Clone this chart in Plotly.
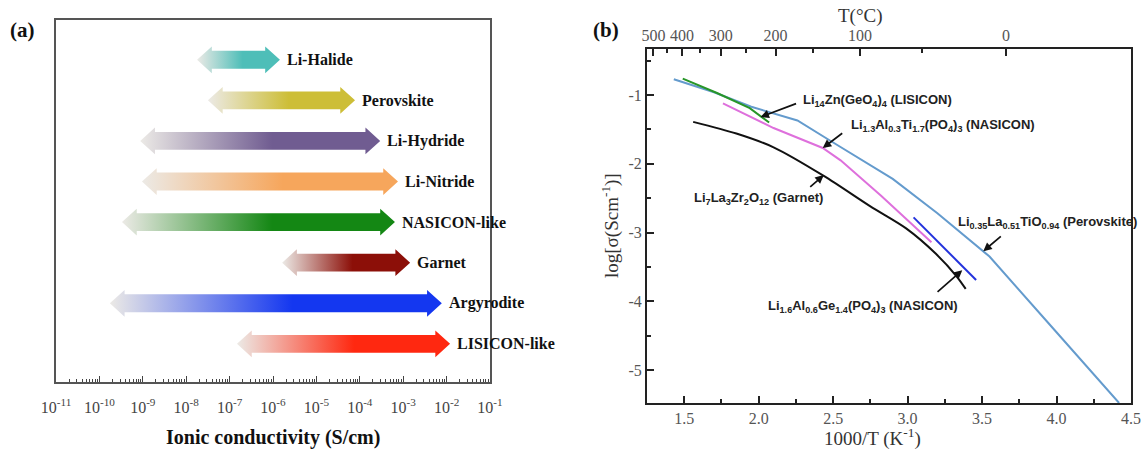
import plotly.graph_objects as go

# ---------------- Panel (a) data ----------------
classes = ["Li-Halide", "Perovskite", "Li-Hydride", "Li-Nitride",
           "NASICON-like", "Garnet", "Argyrodite", "LISICON-like"]
log_lo = [-7.75, -7.50, -9.06, -9.02, -9.48, -5.79, -9.76, -6.83]
log_hi = [-5.84, -4.11, -3.53, -3.12, -3.19, -2.84, -2.11, -1.92]
row_y = [8, 7, 6, 5, 4, 3, 2, 1]
colors = ["rgb(78,190,184)", "rgb(205,190,55)", "rgb(112,92,145)", "rgb(246,166,92)",
          "rgb(20,135,20)", "rgb(140,15,8)", "rgb(20,55,240)", "rgb(255,40,16)"]
a_tick_exp = list(range(-11, 0))

# ---------------- Panel (b) data ----------------
llto_x = [1.43, 1.70, 1.95, 2.15, 2.26, 2.50, 2.90, 3.20, 3.55, 3.93, 4.42]
llto_y = [-0.77, -0.96, -1.17, -1.30, -1.37, -1.69, -2.22, -2.72, -3.35, -4.28, -5.48]
lzgo_x = [1.49, 1.72, 1.94, 2.07]
lzgo_y = [-0.76, -0.97, -1.19, -1.40]
latp_x = [1.76, 2.10, 2.43, 2.55, 2.82, 3.16]
latp_y = [-1.12, -1.48, -1.77, -1.95, -2.46, -3.14]
llzo_x = [1.56, 1.85, 2.10, 2.44, 2.75, 2.99, 3.19, 3.33, 3.39]
llzo_y = [-1.39, -1.56, -1.76, -2.18, -2.62, -2.94, -3.31, -3.64, -3.82]
lagp_x = [3.04, 3.46]
lagp_y = [-2.78, -3.69]
top_T_major = [500, 400, 300, 200, 100, 0]
top_T_minor = [450, 350, 250, 150, 50]

fig = go.Figure()

# ---- gradient double arrows ----
S, H, HL = 0.22, 0.33, 0.34
pale = "rgb(236,234,230)"
for name, lo, hi, yc, col in zip(classes, log_lo, log_hi, row_y, colors):
    xl = [lo, lo + HL, lo + HL, hi - HL, hi - HL, hi, hi - HL, hi - HL, lo + HL, lo + HL, lo]
    ys = [yc, yc + H, yc + S, yc + S, yc + H, yc, yc - H, yc - S, yc - S, yc - H, yc]
    fig.add_trace(go.Scatter(
        x=[10 ** v for v in xl], y=ys, mode="lines", fill="toself",
        line=dict(width=0, color=col),
        fillgradient=dict(type="horizontal",
                          colorscale=[[0, pale], [0.55, col], [1, col]]),
        xaxis="x", yaxis="y", showlegend=False, hoverinfo="skip"))
    fig.add_annotation(x=hi, y=yc, xref="x", yref="y", xanchor="left", yanchor="middle",
                       xshift=5, showarrow=False, text="<b>%s</b>" % name,
                       font=dict(family="Liberation Serif", size=16, color="#111"))

# ---- panel (b) lines ----
def line(xs, ys, col, shape="linear"):
    fig.add_trace(go.Scatter(x=xs, y=ys, mode="lines",
                             line=dict(color=col, width=2, shape=shape, smoothing=0.8),
                             xaxis="x2", yaxis="y2", showlegend=False, hoverinfo="skip"))

line(llto_x, llto_y, "rgb(100,155,205)")
line(lzgo_x, lzgo_y, "rgb(40,150,40)")
line(latp_x, latp_y, "rgb(222,112,220)")
line(llzo_x, llzo_y, "#111111", shape="spline")
line(lagp_x, lagp_y, "rgb(35,50,220)")
# invisible trace on top axis
fig.add_trace(go.Scatter(x=[1.3], y=[-1], mode="markers", marker=dict(opacity=0),
                         xaxis="x3", yaxis="y2", showlegend=False, hoverinfo="skip"))

labels_b = [
    ("Li<sub>14</sub>Zn(GeO<sub>4</sub>)<sub>4</sub> (LISICON)", 2.282, -1.073, (2.261, -1.116), (2.012, -1.320)),
    ("Li<sub>1.3</sub>Al<sub>0.3</sub>Ti<sub>1.7</sub>(PO<sub>4</sub>)<sub>3</sub> (NASICON)", 2.605, -1.437, (2.571, -1.539), (2.430, -1.771)),
    ("Li<sub>7</sub>La<sub>3</sub>Zr<sub>2</sub>O<sub>12</sub> (Garnet)", 1.554, -2.50, (2.336, -2.354), (2.437, -2.164)),
    ("Li<sub>0.35</sub>La<sub>0.51</sub>TiO<sub>0.94</sub> (Perovskite)", 3.326, -2.86, (3.636, -3.038), (3.508, -3.271)),
    ("Li<sub>1.6</sub>Al<sub>0.6</sub>Ge<sub>1.4</sub>(PO<sub>4</sub>)<sub>3</sub> (NASICON)", 2.046, -4.07, (3.191, -3.882), (3.367, -3.547)),
]
for txt, tx, ty, tail, head in labels_b:
    fig.add_annotation(x=tx, y=ty, xref="x2", yref="y2", xanchor="left", yanchor="middle",
                       showarrow=False, text="<b>%s</b>" % txt,
                       font=dict(family="Liberation Sans", size=13, color="#222"))
    fig.add_annotation(x=head[0], y=head[1], ax=tail[0], ay=tail[1], xref="x2", yref="y2",
                       axref="x2", ayref="y2", showarrow=True, arrowhead=2, arrowsize=1,
                       arrowwidth=1.7, arrowcolor="#111", text="")

serif = "Liberation Serif"
W, Hh = 1145, 450
fig.update_layout(
    width=W, height=Hh, margin=dict(l=0, r=0, t=0, b=0, autoexpand=False),
    paper_bgcolor="white", plot_bgcolor="white", showlegend=False,
    xaxis=dict(domain=[56 / W, 490 / W], anchor="y", type="log", range=[-11, -1],
               automargin=False,
               tickvals=[10.0 ** e for e in a_tick_exp],
               ticktext=["10<sup>%d</sup>" % e for e in a_tick_exp],
               ticks="inside", ticklen=6, tickwidth=1, tickcolor="#444",
               ticklabelstandoff=10,
               minor=dict(ticks="inside", ticklen=3, tickcolor="#444",
                          tickvals=[k * 10.0 ** e for e in a_tick_exp[:-1] for k in range(2, 10)]),
               showline=True, linecolor="#555", linewidth=1.5, mirror=True,
               showgrid=False, zeroline=False,
               tickfont=dict(family=serif, size=16, color="#444")),
    yaxis=dict(domain=[(Hh - 382) / Hh, (Hh - 20) / Hh], anchor="x", range=[0.06, 8.98],
               automargin=False,
               showticklabels=False, ticks="", showline=True, linecolor="#555",
               linewidth=1.5, mirror=True, showgrid=False, zeroline=False),
    xaxis2=dict(domain=[647 / W, 1131 / W], anchor="y2", range=[1.25, 4.5],
                automargin=False,
                tickvals=[1.5, 2.0, 2.5, 3.0, 3.5, 4.0, 4.5],
                ticktext=["1.5", "2.0", "2.5", "3.0", "3.5", "4.0", "4.5"],
                ticks="inside", ticklen=7, tickwidth=1.5, tickcolor="#222",
                minor=dict(ticks="inside", ticklen=4, tickcolor="#222",
                           tickvals=[1.75, 2.25, 2.75, 3.25, 3.75, 4.25]),
                showline=True, linecolor="#222", linewidth=2, mirror=True,
                showgrid=False, zeroline=False,
                tickfont=dict(family=serif, size=16, color="#555")),
    xaxis3=dict(overlaying="x2", side="top", anchor="y2", range=[1.25, 4.5],
                automargin=False,
                tickvals=[1000.0 / (t + 273.15) for t in top_T_major],
                ticktext=[str(t) for t in top_T_major],
                ticks="inside", ticklen=7, tickwidth=1.5, tickcolor="#222",
                ticklabelstandoff=4,
                minor=dict(ticks="inside", ticklen=4, tickcolor="#222",
                           tickvals=[1000.0 / (t + 273.15) for t in top_T_minor]),
                showline=False, showgrid=False, zeroline=False,
                tickfont=dict(family=serif, size=16, color="#555")),
    yaxis2=dict(domain=[(Hh - 403) / Hh, (Hh - 49) / Hh], anchor="x2", range=[-5.48, -0.33],
                automargin=False,
                tickvals=[-5, -4, -3, -2, -1], ticktext=["-5", "-4", "-3", "-2", "-1"],
                ticks="inside", ticklen=7, tickwidth=1.5, tickcolor="#222",
                minor=dict(ticks="inside", ticklen=4, tickcolor="#222",
                           tickvals=[-4.5, -3.5, -2.5, -1.5, -0.5]),
                showline=True, linecolor="#222", linewidth=2, mirror=True,
                showgrid=False, zeroline=False,
                tickfont=dict(family=serif, size=16, color="#555")),
)

# titles / panel labels as paper annotations
def ptext(txt, px, py, size, bold=False, family=serif, angle=0, color="#111", xanchor="center"):
    fig.add_annotation(x=px / W, y=1 - py / Hh, xref="paper", yref="paper",
                       xanchor=xanchor, yanchor="middle", showarrow=False, textangle=angle,
                       text=("<b>%s</b>" % txt) if bold else txt,
                       font=dict(family=family, size=size, color=color))

ptext("(a)", 22, 30, 21, bold=True)
ptext("(b)", 606, 30, 21, bold=True)
ptext("Ionic conductivity (S/cm)", 273, 437, 20, bold=True)
ptext("1000/T (K<sup>-1</sup>)", 872, 437, 19, color="#333")
ptext("T(°C)", 860, 16, 19, color="#333")
ptext("log[σ(Scm<sup>-1</sup>)]", 610, 226, 19, angle=-90, color="#333")

fig.write_html("out.html")
